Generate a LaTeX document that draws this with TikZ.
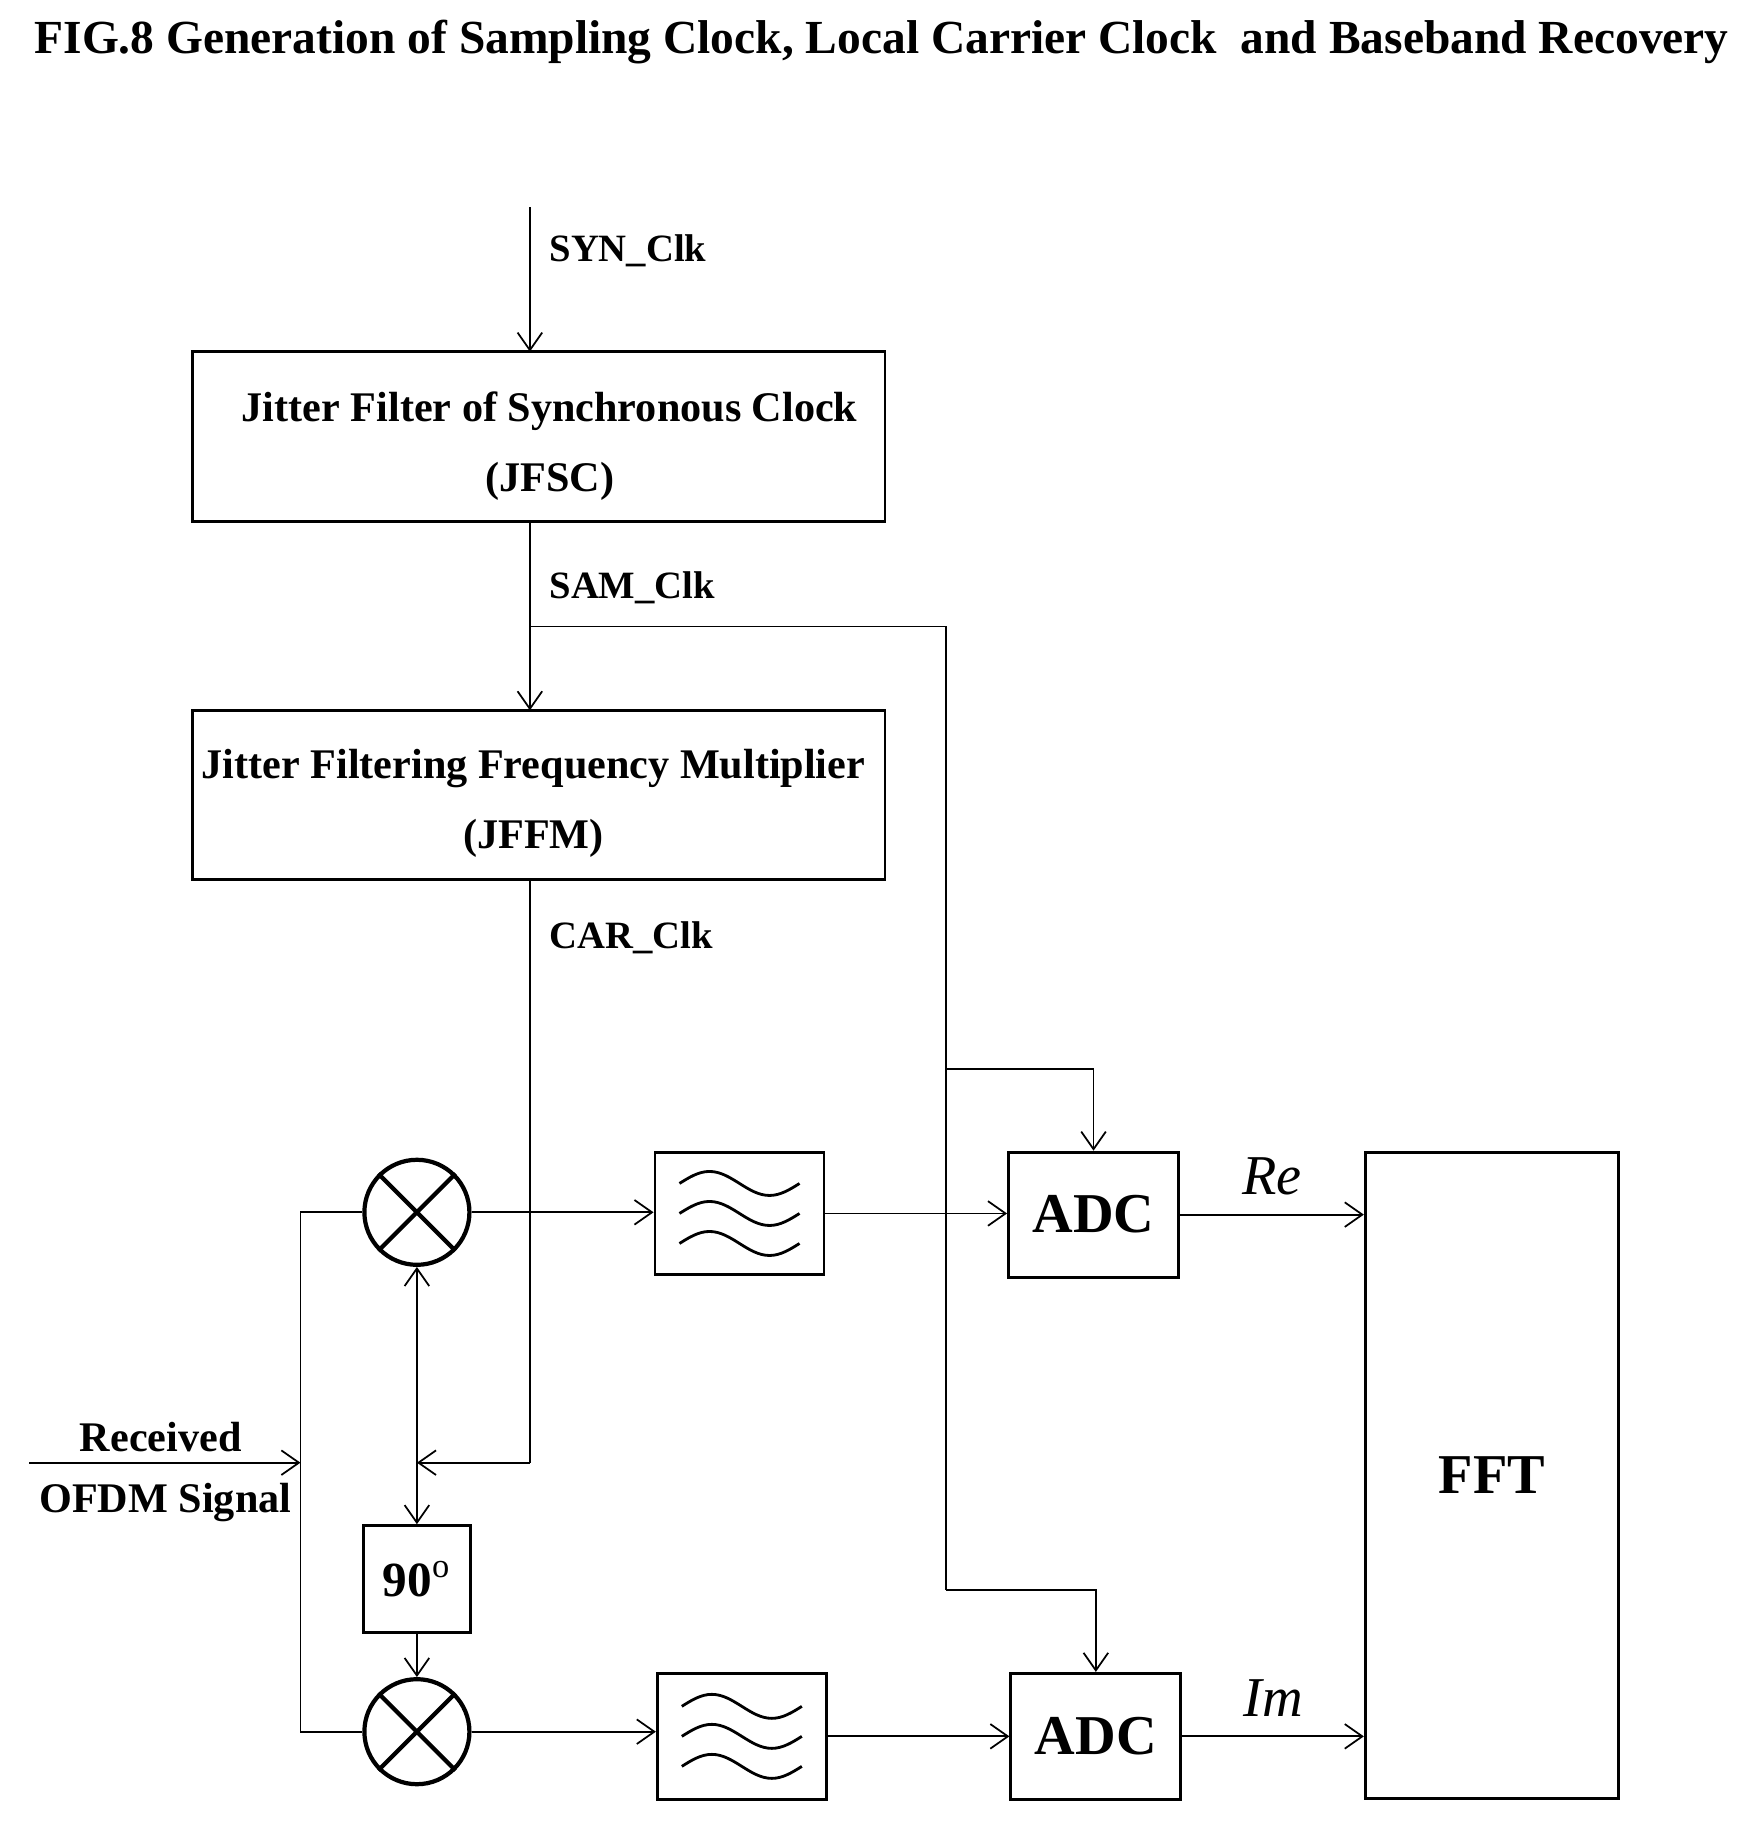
\documentclass[tikz,border=0pt]{standalone}
\usepackage{fontspec}
\setmainfont{Liberation Serif}
\usetikzlibrary{arrows.meta}
\tikzset{
  blk/.style={draw,thick,inner sep=0pt},
  lbl/.style={font=\bfseries\fontsize{11}{13}\selectfont,anchor=west},
  sig/.style={-{Straight Barb[length=5pt,width=7pt]}},
  mix/.style={draw,very thick,circle,minimum size=1.05cm,inner sep=0pt}
}
\begin{document}
\begin{tikzpicture}[x=0.011647cm,y=-0.011647cm,line width=0.5pt]
\useasboundingbox (0,0) rectangle (1500,1574);
% title
\node (title) at (757,36) {\bfseries\fontsize{13.5}{15}\selectfont FIG.8 Generation of Sampling Clock, Local Carrier Clock\ \ and Baseband Recovery};

% clock chain
\coordinate (synin) at (455,178);
\draw[blk] (165,302) rectangle (760,448);
\node (jfsc) at (472,383) [align=center,font=\bfseries\fontsize{12}{20}\selectfont] {Jitter Filter of Synchronous Clock\\(JFSC)};
\draw[blk] (165,610) rectangle (760,755);
\node (jffm) at (458,690) [align=center,font=\bfseries\fontsize{12}{20}\selectfont] {Jitter Filtering Frequency Multiplier\\(JFFM)};
\coordinate (jfscT) at (455,302);
\coordinate (jfscB) at (455,448);
\coordinate (jffmT) at (455,610);
\coordinate (jffmB) at (455,755);
\draw[sig] (synin) -- (jfscT) node[lbl,pos=0.3,xshift=2pt] {SYN\_Clk};
\draw[sig] (jfscB) -- (jffmT) node[lbl,pos=0.35,xshift=2pt] {SAM\_Clk};

% mixers and phase shift
\node[mix] (mix1) at (358,1041) {};
\node[mix] (mix2) at (358,1487) {};
\foreach \m in {mix1,mix2}
  \draw[very thick] (\m.north west) -- (\m.south east) (\m.north east) -- (\m.south west);
\node[blk,minimum size=1.07cm] (shift) at (358,1356) {\bfseries\fontsize{14}{16}\selectfont 90$^{\mathrm{o}}$};
\coordinate (carin) at (358,1256);
\draw (jffmB) -- (455,1256) node[lbl,pos=0.1,xshift=2pt] {CAR\_Clk};
\draw[sig] (455,1256) -- (carin);
\draw[sig] (carin) -- (mix1.south);
\draw[sig] (carin) -- (shift.north);
\draw[sig] (shift.south) -- (mix2.north);

% received signal
\coordinate (rxin) at (25,1256);
\coordinate (rxsplit) at (258,1256);
\draw[sig] (rxin) -- (rxsplit);
\node (rxtop) at (138,1234) {\bfseries\fontsize{12}{14}\selectfont Received};
\node (rxbot) at (142,1290) {\bfseries\fontsize{12}{14}\selectfont OFDM Signal};
\draw (mix1.west) -| (rxsplit) |- (mix2.west);

% filters
\node[blk,minimum width=1.69cm,minimum height=1.22cm] (lpf1) at (635,1042) {};
\node[blk,minimum width=1.69cm,minimum height=1.26cm] (lpf2) at (637,1491) {};
\foreach \f in {lpf1,lpf2}
  \foreach \dy in {-0.3,0,0.3}
    \draw[thick] ([xshift=-0.6cm,yshift=\dy cm]\f.center) sin ++(0.3cm,0.12cm) cos ++(0.3cm,-0.12cm) sin ++(0.3cm,-0.12cm) cos ++(0.3cm,0.12cm);
\draw[sig] (mix1.east) -- (mix1.east -| lpf1.west);
\draw[sig] (mix2.east) -- (mix2.east -| lpf2.west);

% ADCs and FFT
\node[blk,minimum width=1.7cm,minimum height=1.25cm,font=\bfseries\fontsize{16}{18}\selectfont] (adc1) at (939,1043) {ADC};
\node[blk,minimum width=1.7cm,minimum height=1.26cm,font=\bfseries\fontsize{16}{18}\selectfont] (adc2) at (941,1491) {ADC};
\node[blk,minimum width=2.53cm,minimum height=6.46cm,font=\bfseries\fontsize{16}{18}\selectfont] (fft) at (1281,1267) {FFT};
\draw[sig] (lpf1.east) -- (lpf1.east -| adc1.west);
\draw[sig] (lpf2.east) -- (lpf2.east -| adc2.west);
\draw[sig] (adc1.east) -- (adc1.east -| fft.west) node[midway,above=2pt,font=\itshape\fontsize{16}{18}\selectfont] {Re};
\draw[sig] (adc2.east) -- (adc2.east -| fft.west) node[midway,above=2pt,font=\itshape\fontsize{16}{18}\selectfont] {Im};

% sampling clock to ADCs
\coordinate (samsplit) at (455,538);
\draw (samsplit) -| (812,1365);
\draw[sig] (812,918) -| (adc1.north);
\draw[sig] (812,1365) -| (adc2.north);
\end{tikzpicture}
\end{document}
